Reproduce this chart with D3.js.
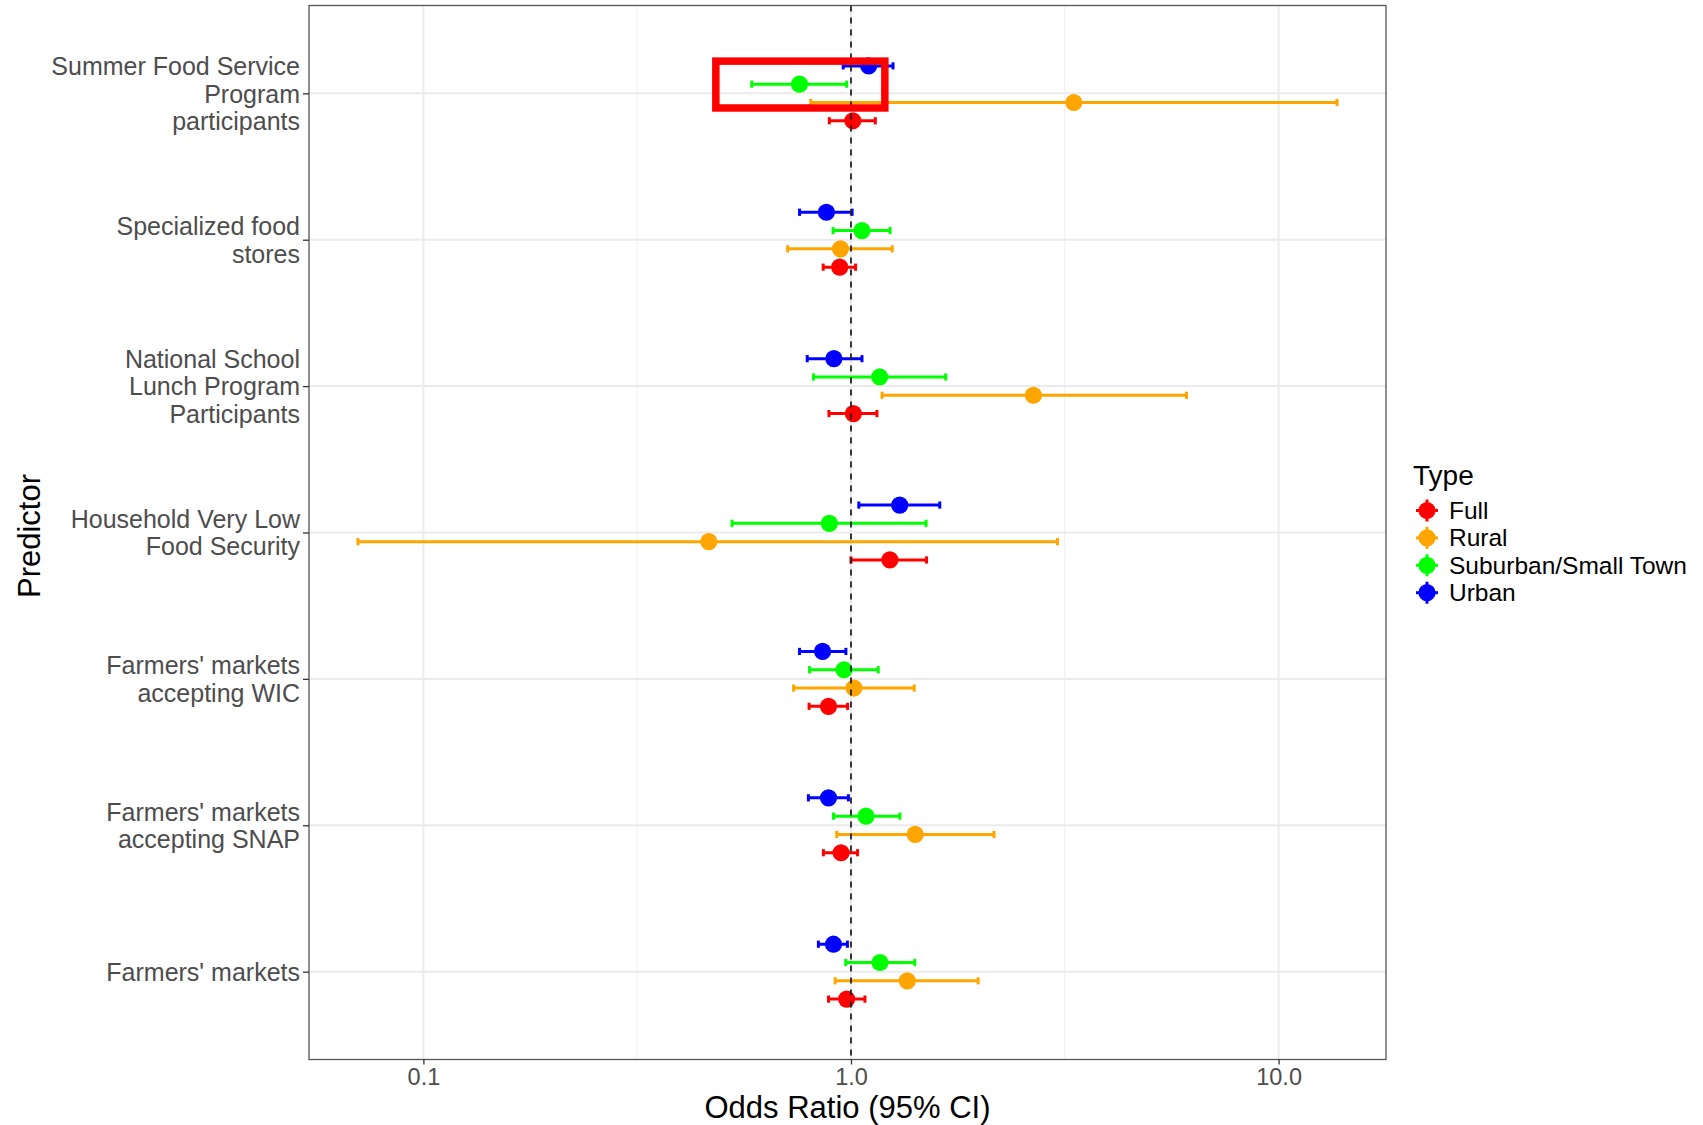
<!DOCTYPE html>
<html>
<head>
<meta charset="utf-8">
<script src="https://cdn.jsdelivr.net/npm/d3@7"></script>
<style>
  body { margin: 0; background: #fff; }
  svg { display: block; font-family: "Liberation Sans", Arial, sans-serif; }
</style>
</head>
<body>
<svg id="chart" width="1703" height="1125"></svg>
<script>
// predictors, top to bottom
var predictors = [
    "Summer Food Service\nProgram\nparticipants",
    "Specialized food\nstores",
    "National School\nLunch Program\nParticipants",
    "Household Very Low\nFood Security",
    "Farmers' markets\naccepting WIC",
    "Farmers' markets\naccepting SNAP",
    "Farmers' markets"
]
var types = ["Full", "Rural", "Suburban/Small Town", "Urban"]
var typeColors = ["#ff0000", "#ffa500", "#00ff00", "#0000ff"]

var fullOR = [1.01, 0.941, 1.013, 1.233, 0.886, 0.948, 0.977]
var fullLo = [0.89, 0.861, 0.888, 1.0, 0.798, 0.862, 0.886]
var fullHi = [1.14, 1.025, 1.15, 1.502, 0.982, 1.036, 1.078]

var ruralOR = [3.32, 0.945, 2.67, 0.465, 1.016, 1.413, 1.354]
var ruralLo = [0.805, 0.711, 1.182, 0.0703, 0.734, 0.926, 0.918]
var ruralHi = [13.7, 1.249, 6.09, 3.04, 1.406, 2.16, 1.983]

var suburbanOR = [0.758, 1.061, 1.167, 0.89, 0.963, 1.084, 1.169]
var suburbanLo = [0.586, 0.908, 0.817, 0.527, 0.80, 0.91, 0.972]
var suburbanHi = [0.977, 1.234, 1.665, 1.498, 1.158, 1.301, 1.41]

var urbanOR = [1.10, 0.876, 0.912, 1.30, 0.858, 0.886, 0.91]
var urbanLo = [0.959, 0.758, 0.79, 1.043, 0.758, 0.795, 0.839]
var urbanHi = [1.254, 1.006, 1.061, 1.613, 0.973, 0.986, 0.981]

var xTicks = [0.1, 1, 10]
var xMinor = [0.316, 3.16]

// highlighted box around the Summer Food Service suburban estimate
var highlight = { predictor: predictors[0], xmin: 0.483, xmax: 1.2, top: -0.22, bottom: 0.1 }

var series = [
    { type: types[0], or: fullOR, lo: fullLo, hi: fullHi },
    { type: types[1], or: ruralOR, lo: ruralLo, hi: ruralHi },
    { type: types[2], or: suburbanOR, lo: suburbanLo, hi: suburbanHi },
    { type: types[3], or: urbanOR, lo: urbanLo, hi: urbanHi }
]
var rows = []
series.forEach((s, si) => {
    predictors.forEach((p, pi) => {
        rows.push({ predictor: p, type: s.type, si: si, or: s.or[pi], lo: s.lo[pi], hi: s.hi[pi] })
    })
})

var margin = { left: 309, top: 5.5 },
    width = 1077,
    height = 1054

var svg = d3.select('#chart')
var g = svg.append('g').attr('transform', 'translate(' + margin.left + ',' + margin.top + ')')

var lmin = Math.log10(d3.min(rows, d => d.lo)),
    lmax = Math.log10(d3.max(rows, d => d.hi)),
    pad = (lmax - lmin) * 0.05

var x = d3.scaleLog()
    .domain([Math.pow(10, lmin - pad), Math.pow(10, lmax + pad)])
    .range([0, width])
var y = d3.scalePoint()
    .domain(predictors)
    .range([0, height])
    .padding(0.6)
var color = d3.scaleOrdinal().domain(types).range(typeColors)

// dodge: Full lowest, Urban highest
var dodge = d => y(d.predictor) + (0.1875 - d.si * 0.125) * y.step()

g.selectAll('.minor')
    .data(xMinor)
    .enter().append('line')
    .attr('x1', d => x(d)).attr('x2', d => x(d))
    .attr('y1', 0).attr('y2', height)
    .attr('stroke', '#f2f2f2')
    .attr('stroke-width', 1.2)

g.selectAll('.vgrid')
    .data(xTicks)
    .enter().append('line')
    .attr('x1', d => x(d)).attr('x2', d => x(d))
    .attr('y1', 0).attr('y2', height)
    .attr('stroke', '#ebebeb')
    .attr('stroke-width', 2)

g.selectAll('.hgrid')
    .data(predictors)
    .enter().append('line')
    .attr('x1', 0).attr('x2', width)
    .attr('y1', d => y(d)).attr('y2', d => y(d))
    .attr('stroke', '#ebebeb')
    .attr('stroke-width', 2)

var bars = g.selectAll('.bar')
    .data(rows)
    .enter().append('g')
    .attr('stroke', d => color(d.type))
    .attr('stroke-width', 3)
bars.append('line')
    .attr('x1', d => x(d.lo)).attr('x2', d => x(d.hi))
    .attr('y1', dodge).attr('y2', dodge)
bars.append('line')
    .attr('x1', d => x(d.lo)).attr('x2', d => x(d.lo))
    .attr('y1', d => dodge(d) - 3.6).attr('y2', d => dodge(d) + 3.6)
bars.append('line')
    .attr('x1', d => x(d.hi)).attr('x2', d => x(d.hi))
    .attr('y1', d => dodge(d) - 3.6).attr('y2', d => dodge(d) + 3.6)

g.selectAll('.pt')
    .data(rows)
    .enter().append('circle')
    .attr('cx', d => x(d.or))
    .attr('cy', dodge)
    .attr('r', 8.6)
    .attr('fill', d => color(d.type))

g.append('line')
    .attr('x1', x(1)).attr('x2', x(1))
    .attr('y1', 0).attr('y2', height)
    .attr('stroke', '#222')
    .attr('stroke-width', 1.8)
    .attr('stroke-dasharray', '6,6')

g.append('rect')
    .attr('x', x(highlight.xmin))
    .attr('width', x(highlight.xmax) - x(highlight.xmin))
    .attr('y', y(highlight.predictor) + highlight.top * y.step())
    .attr('height', (highlight.bottom - highlight.top) * y.step())
    .attr('fill', 'none')
    .attr('stroke', '#ff0000')
    .attr('stroke-width', 7.5)

g.append('rect')
    .attr('width', width).attr('height', height)
    .attr('fill', 'none')
    .attr('stroke', '#555')
    .attr('stroke-width', 1.3)

g.append('g')
    .attr('transform', 'translate(0,' + height + ')')
    .call(d3.axisBottom(x).tickValues(xTicks).tickFormat(d3.format('.1f')).tickSize(5).tickPadding(4))
    .call(a => {
        a.select('.domain').remove()
        a.selectAll('line').attr('stroke', '#333').attr('stroke-width', 1.3)
        a.selectAll('text').attr('fill', '#4d4d4d').attr('font-size', 23.5)
            .attr('font-family', '"Liberation Sans", Arial, sans-serif')
    })

g.append('g')
    .call(d3.axisLeft(y).tickSize(6).tickPadding(3))
    .call(a => {
        a.select('.domain').remove()
        a.selectAll('line').attr('stroke', '#333').attr('stroke-width', 1.3)
        a.selectAll('text').each(function(d) {
            var lines = d.split('\n'),
                t = d3.select(this).text(null)
                    .attr('fill', '#4d4d4d').attr('font-size', 25)
                    .attr('font-family', '"Liberation Sans", Arial, sans-serif')
                    .attr('dy', null)
            lines.forEach((l, i) => {
                t.append('tspan')
                    .attr('x', -9)
                    .attr('y', (i - (lines.length - 1) / 2) * 27.3)
                    .attr('dy', '0.35em')
                    .text(l)
            })
        })
    })

svg.append('text')
    .attr('x', margin.left + width / 2)
    .attr('y', 1118)
    .attr('text-anchor', 'middle')
    .attr('font-size', 31)
    .text('Odds Ratio (95% CI)')

svg.append('text')
    .attr('transform', 'translate(40,536) rotate(-90)')
    .attr('text-anchor', 'middle')
    .attr('font-size', 31)
    .text('Predictor')

var legend = svg.append('g').attr('transform', 'translate(1413,0)')
legend.append('text')
    .attr('x', 0).attr('y', 485)
    .attr('font-size', 28)
    .text('Type')
var items = legend.selectAll('.item')
    .data(types)
    .enter().append('g')
    .attr('transform', (d, i) => 'translate(14,' + (510.5 + i * 27.4) + ')')
items.append('line')
    .attr('x1', -11).attr('x2', 11)
    .attr('stroke', d => color(d)).attr('stroke-width', 3)
items.append('line')
    .attr('y1', -11).attr('y2', 11)
    .attr('stroke', d => color(d)).attr('stroke-width', 3)
items.append('circle')
    .attr('r', 8.6)
    .attr('fill', d => color(d))
items.append('text')
    .attr('x', 22)
    .attr('dy', '0.35em')
    .attr('font-size', 24.5)
    .text(d => d)
</script>
</body>
</html>
